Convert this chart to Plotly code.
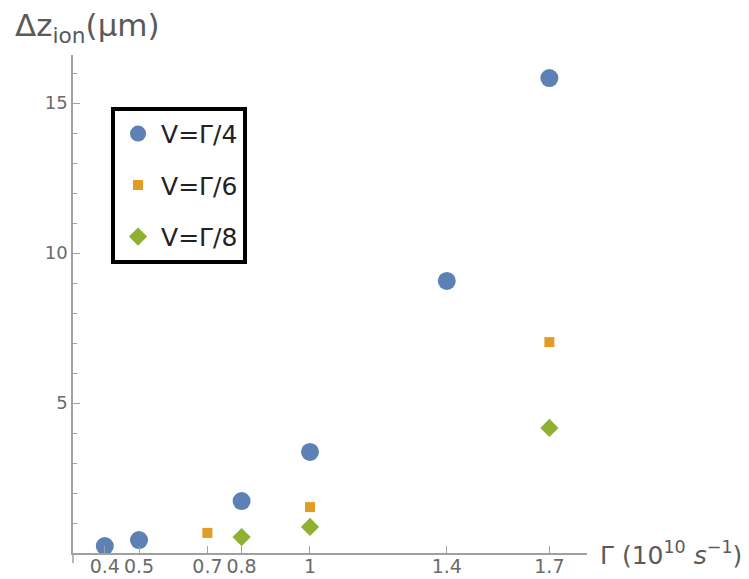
import plotly.graph_objects as go

# data
x_g4 = [0.4, 0.5, 0.8, 1.0, 1.4, 1.7]
y_g4 = [0.23, 0.43, 1.73, 3.37, 9.07, 15.83]
x_g6 = [0.7, 1.0, 1.7]
y_g6 = [0.67, 1.53, 7.03]
x_g8 = [0.8, 1.0, 1.7]
y_g8 = [0.53, 0.87, 4.17]
x_ticks = [0.4, 0.5, 0.7, 0.8, 1.0, 1.4, 1.7]
x_ticktext = ["0.4", "0.5", "0.7", "0.8", "1", "1.4", "1.7"]
y_ticks = [5, 10, 15]

FONT = "DejaVu Sans"
AX = "#a0a0a0"
TXT = "#6a6a6a"

fig = go.Figure()
fig.add_trace(go.Scatter(x=x_g4, y=y_g4, mode="markers", name="V=Γ/4", legendgroup="a",
                         marker=dict(symbol="circle", size=18, color="#5E81B5")))
fig.add_trace(go.Scatter(x=x_g6, y=y_g6, mode="markers", name="V=Γ/6", legendgroup="b",
                         marker=dict(symbol="square", size=10, color="#E19C24")))
fig.add_trace(go.Scatter(x=x_g8, y=y_g8, mode="markers", name="V=Γ/8", legendgroup="c",
                         marker=dict(symbol="diamond", size=14, color="#8FB032")))

fig.update_layout(
    width=749, height=579,
    margin=dict(l=73, r=162, t=55, b=26),
    plot_bgcolor="white", paper_bgcolor="white",
    font=dict(family=FONT, color=TXT, size=19),
    showlegend=True,
    legend=dict(x=0.074, y=0.896, xanchor="left", yanchor="top",
                bordercolor="black", borderwidth=4, bgcolor="white",
                font=dict(size=25, color="#222222", family=FONT),
                tracegroupgap=16, itemsizing="trace", itemwidth=36),
    xaxis=dict(range=[0.307, 1.81], showgrid=False, zeroline=False, automargin=False,
               showline=True, linecolor=AX, linewidth=1.5,
               tickmode="array", tickvals=x_ticks, ticktext=x_ticktext,
               ticks="inside", ticklen=7, tickcolor=AX, ticklabelstandoff=-5,
               tickfont=dict(size=19, color=TXT, family=FONT)),
    yaxis=dict(range=[0, 16.6], showgrid=False, zeroline=False, automargin=False,
               showline=True, linecolor=AX, linewidth=1.5,
               tickmode="array", tickvals=y_ticks,
               ticks="inside", ticklen=7, tickcolor=AX,
               tickfont=dict(size=18, color=TXT, family=FONT),
               minor=dict(tickmode="linear", tick0=0, dtick=1, ticks="inside",
                          ticklen=4, tickcolor=AX, showgrid=False)),
    annotations=[
        dict(text="Δz<sub>ion</sub>(μm)", xref="paper", yref="paper",
             x=-0.117, y=1.056, xanchor="left", yanchor="middle",
             showarrow=False, font=dict(size=31, color="#5a5a5a", family=FONT)),
        dict(text="Γ (10<sup>10</sup> <i>s</i><sup>−1</sup>)", xref="paper", yref="paper",
             x=1.0, y=0, xanchor="left", yanchor="middle", xshift=11,
             showarrow=False, font=dict(size=25, color="#5a5a5a", family=FONT)),
    ],
    shapes=[dict(type="line", xref="paper", yref="paper", x0=0, x1=0, y0=0, y1=-0.02,
                 line=dict(color=AX, width=1.5))],
)

fig.write_html("out.html",
               config={"displayModeBar": False},
               post_script="document.body.style.margin='0';document.body.style.overflow='hidden';")
